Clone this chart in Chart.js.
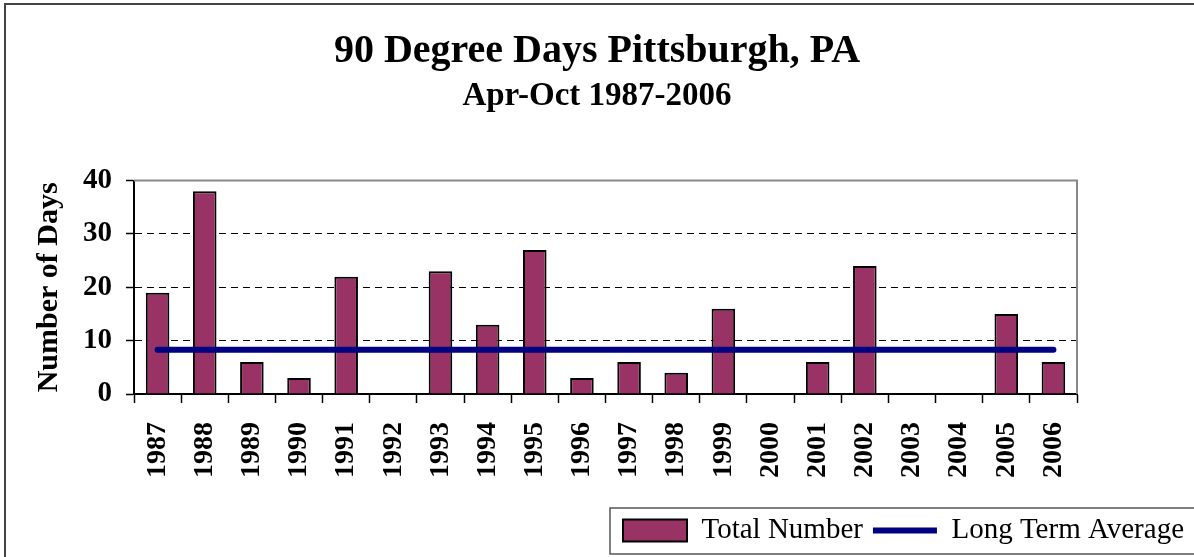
<!DOCTYPE html>
<html>
<head>
<meta charset="utf-8">
<script src="https://cdn.jsdelivr.net/npm/chart.js"></script>
<style>
  html, body { margin: 0; padding: 0; background: #fff; }
  #wrap { width: 1194px; height: 557px; position: relative; }
</style>
</head>
<body>
<div id="wrap"><canvas id="heatChart"></canvas></div>
<script>
const years = ["1987","1988","1989","1990","1991","1992","1993","1994","1995","1996",
               "1997","1998","1999","2000","2001","2002","2003","2004","2005","2006"];
const totalDays = [19,38,6,3,22,0,23,13,27,3,6,4,16,0,6,24,0,0,15,6];
const longTermAvg = [8.3,8.3,8.3,8.3,8.3,8.3,8.3,8.3,8.3,8.3,8.3,8.3,8.3,8.3,8.3,8.3,8.3,8.3,8.3,8.3];
const yTicks = [0,10,20,30,40];

const serif = "'Liberation Serif', 'Times New Roman', serif";

// frame round the whole picture, plot border, legend box
const framePlugin = {
  id: "frames",
  beforeDraw(chart) {
    const c = chart.ctx;
    c.save();
    c.fillStyle = "#fff";
    c.fillRect(0, 0, chart.width, chart.height);
    c.strokeStyle = "#444";
    c.lineWidth = 2;
    c.beginPath();
    c.moveTo(5, chart.height + 5);
    c.lineTo(5, 4);
    c.lineTo(chart.width + 5, 4);
    c.stroke();
    c.restore();
  },
  afterDatasetsDraw(chart) {
    const { ctx: c, chartArea: a } = chart;
    c.save();
    c.strokeStyle = "#888";
    c.lineWidth = 2;
    c.beginPath();
    c.moveTo(a.left, a.top);
    c.lineTo(a.right, a.top);
    c.lineTo(a.right, a.bottom);
    c.stroke();
    c.restore();
  },
  afterDraw(chart) {
    const lg = chart.legend;
    if (!lg || !lg.legendHitBoxes.length) return;
    const c = chart.ctx;
    const x0 = lg.legendHitBoxes[0].left - 13;
    c.save();
    c.strokeStyle = "#555";
    c.lineWidth = 1.5;
    c.strokeRect(x0, lg.top + 2, chart.width, lg.bottom - lg.top - 3);
    c.restore();
  }
};

new Chart(document.getElementById("heatChart"), {
  data: {
    labels: years,
    datasets: [
      {
        type: "bar",
        label: "Total Number",
        data: totalDays,
        backgroundColor: "#993366",
        borderColor: "#000",
        borderWidth: 2,
        barPercentage: 0.5,
        categoryPercentage: 1,
        pointStyle: "rect",
        order: 2,
      },
      {
        type: "line",
        label: "Long Term Average",
        data: longTermAvg,
        borderColor: "#000080",
        backgroundColor: "#000080",
        borderWidth: 6,
        borderCapStyle: "round",
        pointRadius: 0,
        pointStyle: "line",
        fill: false,
        order: 1,
      },
    ],
  },
  options: {
    responsive: true,
    maintainAspectRatio: false,
    animation: false,
    devicePixelRatio: 1,
    layout: { padding: { left: 0, right: 0, top: 0, bottom: 2 } },
    plugins: {
      title: {
        display: true,
        text: "90 Degree Days Pittsburgh, PA",
        color: "#000",
        font: { family: serif, size: 40, weight: "bold" },
        padding: { top: 28, bottom: 1 },
      },
      subtitle: {
        display: true,
        text: "Apr-Oct 1987-2006",
        color: "#000",
        font: { family: serif, size: 33, weight: "bold" },
        padding: { top: 0, bottom: 64 },
      },
      legend: {
        position: "bottom",
        align: "end",
        labels: {
          usePointStyle: true,
          pointStyleWidth: 64,
          boxHeight: 22,
          color: "#000",
          padding: 10,
          font: { family: serif, size: 29 },
          sort: (a, b) => a.datasetIndex - b.datasetIndex,
        },
      },
      tooltip: { enabled: false },
    },
    scales: {
      x: {
        offset: true,
        afterFit: (s) => { s.height += 9; },
        grid: {
          display: true,
          offset: true,
          drawOnChartArea: false,
          drawTicks: true,
          tickLength: 9,
          tickColor: "#000",
          tickWidth: 1.5,
        },
        border: { display: true, color: "#000", width: 2 },
        ticks: {
          color: "#000",
          maxRotation: 90,
          minRotation: 90,
          padding: 19,
          font: { family: serif, size: 28, weight: "bold" },
        },
      },
      y: {
        min: 0,
        max: 40,
        afterBuildTicks: (s) => { s.ticks = yTicks.map((v) => ({ value: v })); },
        afterFit: (s) => { s.width = 134; },
        grid: {
          color: (ctx) => (ctx.tick && (ctx.tick.value === 0 || ctx.tick.value === 40) ? "rgba(0,0,0,0)" : "#000"),
          lineWidth: 1,
          tickLength: 8,
          tickColor: "#000",
          tickWidth: 1.5,
        },
        border: { display: true, color: "#000", width: 2, dash: [7, 5] },
        ticks: {
          color: "#000",
          padding: 14,
          font: { family: serif, size: 29, weight: "bold" },
        },
        title: {
          display: true,
          text: "Number of Days",
          color: "#000",
          padding: { top: 31, bottom: 0 },
          font: { family: serif, size: 30, weight: "bold" },
        },
      },
      yRight: {
        position: "right",
        display: true,
        grid: { display: false },
        border: { display: false },
        ticks: { display: false },
        afterFit: (s) => { s.width = 117; },
      },
    },
  },
  plugins: [framePlugin],
});
</script>
</body>
</html>
